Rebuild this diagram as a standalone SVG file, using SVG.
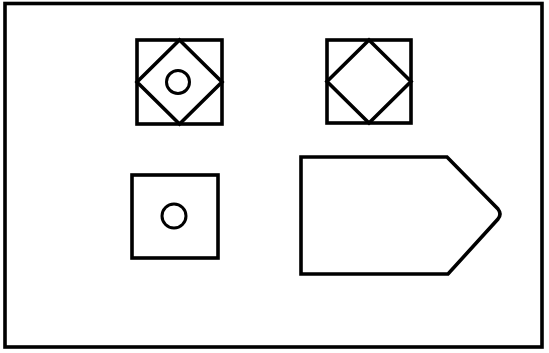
<svg xmlns="http://www.w3.org/2000/svg" width="549" height="353" viewBox="0 0 549 353">
<style>
.s{fill:none;stroke:#000;stroke-width:3.6;stroke-linejoin:miter}
.t{fill:none;stroke:#000;stroke-width:3;}
</style>
<rect width="549" height="353" fill="#fff"/>
<rect id="frame" class="s" x="5" y="3.5" width="537" height="343.5" stroke-width="4"/>
<g id="node-square-diamond-circle">
<rect class="s" x="137" y="40" width="85" height="84"/>
<polygon class="s" points="179.5,40 222,82 179.5,124 137,82"/>
<circle class="t" cx="178" cy="82" r="11.5"/>
</g>
<g id="node-square-diamond">
<rect class="s" x="327" y="40" width="84" height="83"/>
<polygon class="s" points="369,40 411,81.5 369,123 327,81.5"/>
</g>
<g id="node-square-circle">
<rect class="s" x="132" y="175" width="86" height="83"/>
<circle class="t" cx="174" cy="216" r="12"/>
</g>
<g id="node-pentagon">
<path class="s" d="M301,157 L447,157 L498,209 Q502,214 498,219 L448,274 L301,274 Z"/>
</g>
<g id="connectors"></g>
</svg>
